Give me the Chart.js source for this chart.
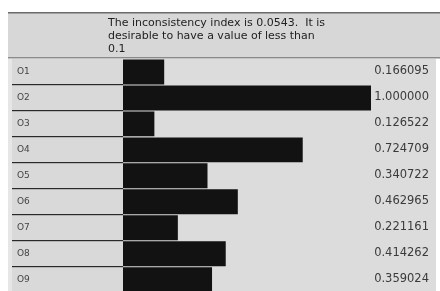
<!DOCTYPE html>
<html>
<head>
<meta charset="utf-8">
<script src="https://cdn.jsdelivr.net/npm/chart.js@4/dist/chart.umd.min.js"></script>
<style>
  html, body { margin: 0; padding: 0; background: #fff; overflow: hidden; }
  #wrap { width: 440px; height: 298px; position: relative; }
</style>
</head>
<body>
<div id="wrap"><canvas id="chart"></canvas></div>
<script>
// datos de la tabla
const options = ["O1", "O2", "O3", "O4", "O5", "O6", "O7", "O8", "O9"];
const weights = [0.166095, 1.000000, 0.126522, 0.724709, 0.340722, 0.462965, 0.221161, 0.414262, 0.359024];
const headerLines = [
    "The inconsistency index is 0.0543.  It is",
    "desirable to have a value of less than",
    "0.1"
];

// fondo gris, cabecera y lineas de separacion
const tablePlugin = {
    id: 'tablePlugin',
    beforeDraw(chart) {
        const c = chart.ctx;
        const area = chart.chartArea;
        c.save();
        // cabecera
        c.fillStyle = '#d7d7d7';
        c.fillRect(8, 12, 432, 46);
        c.fillStyle = '#6a6a6a';
        c.fillRect(8, 12, 432, 1.5);
        c.fillStyle = '#8a8a8a';
        c.fillRect(8, 57, 432, 1.5);
        c.fillStyle = '#222';
        c.font = '11px "DejaVu Sans"';
        c.textBaseline = 'middle';
        headerLines.forEach((line, i) => c.fillText(line, 108, 23 + i * 13));
        // columnas
        c.fillStyle = '#e6e6e6';
        c.fillRect(8, 59, 4, 240);
        c.fillStyle = '#d9d9d9';
        c.fillRect(12, 59, area.left - 12, 240);
        c.fillStyle = '#dcdcdc';
        c.fillRect(area.left, 59, 436 - area.left, 240);
        // separadores de filas
        const step = (area.bottom - area.top) / options.length;
        c.fillStyle = '#2a2a2a';
        for (let i = 1; i < options.length; i++) {
            const y = Math.round(area.top + i * step);
            c.fillRect(12, y - 1, area.left - 12, 1.2);
        }
        c.restore();
    },
    afterDatasetsDraw(chart) {
        const c = chart.ctx;
        const yScale = chart.scales.y;
        c.save();
        c.fillStyle = '#3a3a3a';
        c.font = '11.5px "DejaVu Sans"';
        c.textAlign = 'right';
        c.textBaseline = 'middle';
        weights.forEach((v, i) => {
            c.fillText(v.toFixed(6), 429, yScale.getPixelForValue(i) - 1);
        });
        c.restore();
    }
};

const ctx = document.getElementById('chart').getContext('2d');
const chart = new Chart(ctx, {
    type: 'bar',
    data: {
        labels: options,
        datasets: [{
            data: weights,
            backgroundColor: '#121212',
            borderWidth: 0,
            categoryPercentage: 1.0,
            barPercentage: 0.96
        }]
    },
    options: {
        indexAxis: 'y',
        responsive: true,
        maintainAspectRatio: false,
        animation: false,
        layout: { padding: { top: 59, left: 17, right: 69, bottom: 0 } },
        plugins: {
            legend: { display: false },
            tooltip: { enabled: false }
        },
        scales: {
            x: { display: false, min: 0, max: 1 },
            y: {
                grid: { display: false, drawTicks: false },
                border: { display: false },
                afterFit: scale => { scale.width = 106; },
                ticks: {
                    crossAlign: 'far',
                    color: '#444',
                    font: { family: 'DejaVu Sans', size: 9 },
                    padding: 0
                }
            }
        }
    },
    plugins: [tablePlugin]
});
</script>
</body>
</html>
